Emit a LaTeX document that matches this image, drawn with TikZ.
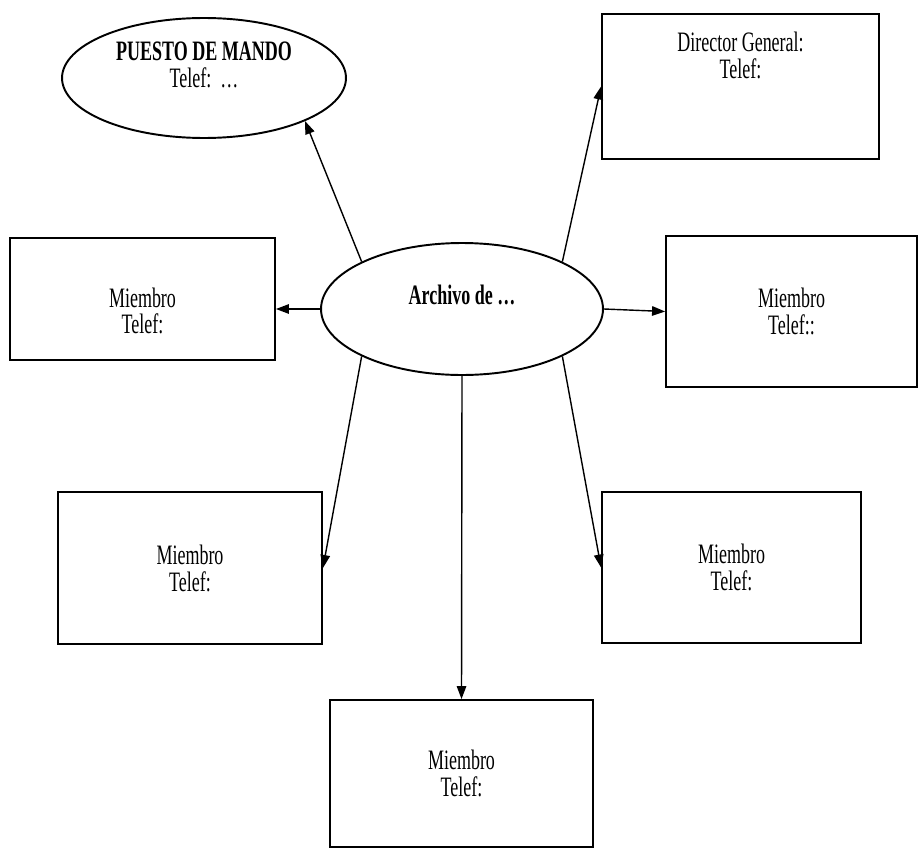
\documentclass[tikz,border=0pt]{standalone}
\usepackage{fontspec}
\setmainfont[FakeStretch=0.64]{Liberation Serif}
\usepackage{tikz}
\usetikzlibrary{arrows.meta, positioning, shapes.geometric}

\begin{document}
\begin{tikzpicture}[x=0.02cm, y=-0.02cm,
    font=\fontsize{16}{15.3}\selectfont,
    caja/.style={draw, line width=1.1pt, rectangle, align=center, inner sep=0pt},
    elipse/.style={draw, line width=1.1pt, ellipse, align=center, inner sep=0pt},
    flecha/.style={-{Triangle[length=2.6mm, width=1.9mm]}, line width=0.8pt}]
  \useasboundingbox (0,0) rectangle (918,848);

  % Centre
  \node[elipse, minimum width=5.64cm, minimum height=2.64cm, text depth=16.6pt]
    (archivo) at (462,309) {\textbf{Archivo de …}};

  % Top
  \node[elipse, minimum width=5.68cm, minimum height=2.4cm, text depth=15pt]
    (puesto) at (204,78) {\textbf{PUESTO DE MANDO}\\Telef:~~…};
  \node[caja, minimum width=5.54cm, minimum height=2.9cm, text depth=36pt]
    (director) at (740.5,86.5) {Director General:\\Telef:};

  % Sides
  \node[caja, minimum width=5.3cm, minimum height=2.44cm, text height=40pt]
    (miembroI) at (142.5,299) {Miembro\\Telef:};
  \node[caja, minimum width=5.02cm, minimum height=3.02cm]
    (miembroD) at (791.5,311.5) {Miembro\\Telef::};

  % Bottom
  \node[caja, minimum width=5.28cm, minimum height=3.04cm]
    (miembroII) at (190,568) {Miembro\\Telef:};
  \node[caja, minimum width=5.18cm, minimum height=3.02cm]
    (miembroID) at (731.5,567.5) {Miembro\\Telef:};
  \node[caja, minimum width=5.26cm, minimum height=2.94cm]
    (miembroB) at (461.5,773.5) {Miembro\\Telef:};

  % Arrows
  \draw[flecha] (archivo.north west) -- (puesto.south east);
  \draw[flecha] (archivo.north east) -- (director.west);
  \draw[flecha] (archivo.west) -- (archivo.west -| miembroI.east);
  \draw[flecha] (archivo.east) -- (miembroD.west);
  \draw[flecha] (archivo.south west) -- (miembroII.east);
  \draw[flecha] (archivo.south east) -- (miembroID.west);
  \draw[flecha] (archivo.south) -- (miembroB.north);

\end{tikzpicture}
\end{document}
